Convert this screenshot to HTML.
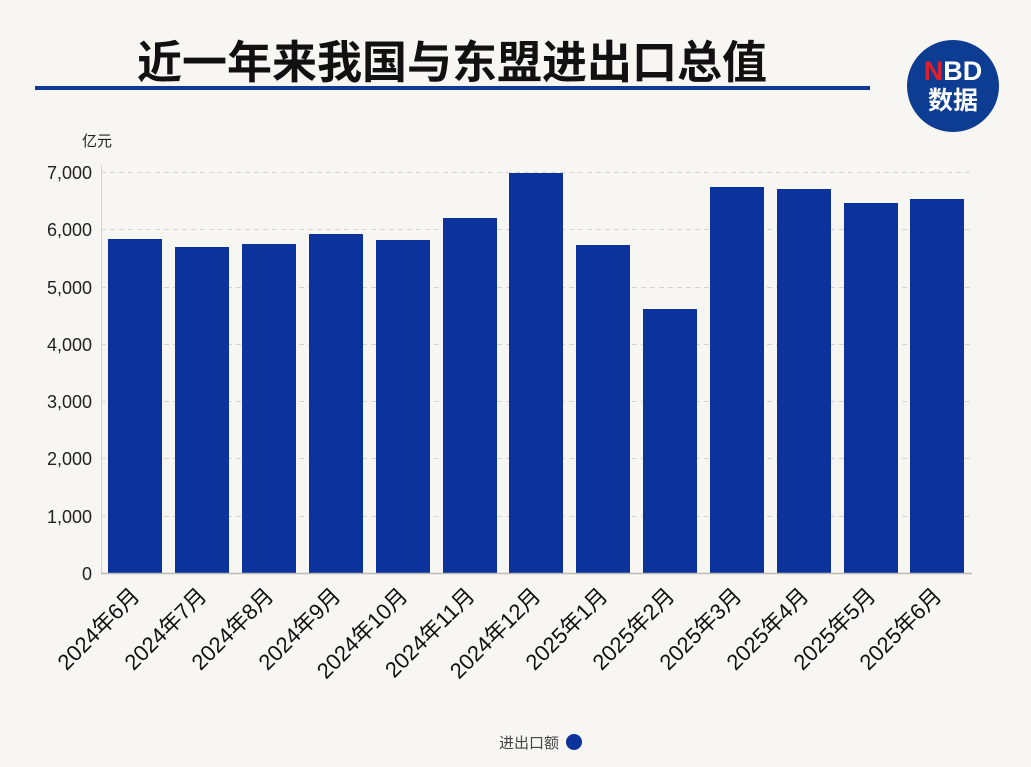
<!DOCTYPE html>
<html><head><meta charset="utf-8"><style>
html,body{margin:0;padding:0;background:#f8f6f2;}
svg{display:block;font-family:"Liberation Sans","Noto Sans CJK SC",sans-serif;}
</style></head><body>
<svg width="1031" height="767" viewBox="0 0 1031 767">
<rect width="1031" height="767" fill="#f8f6f2"/>
<text x="452" y="78" text-anchor="middle" font-size="45" font-weight="bold" fill="#111" font-family="'Noto Sans CJK SC',sans-serif">近一年来我国与东盟进出口总值</text>
<rect x="35" y="86" width="835" height="4" fill="#0d3a9a"/>
<circle cx="953" cy="86" r="46" fill="#0c3d92"/>
<text x="953" y="80" text-anchor="middle" font-size="27" font-weight="bold" fill="#fff"><tspan fill="#e0202a">N</tspan>BD</text>
<text x="953" y="109" text-anchor="middle" font-size="25" font-weight="bold" fill="#fff" font-family="'Noto Sans CJK SC',sans-serif">数据</text>
<text x="82" y="146" font-size="15" fill="#222" font-family="'Noto Sans CJK SC',sans-serif">亿元</text>
<g stroke="#d6d3cf" stroke-dasharray="5,4" stroke-width="1">
<line x1="101" x2="972" y1="172.5" y2="172.5"/><line x1="101" x2="972" y1="229.5" y2="229.5"/>
<line x1="101" x2="972" y1="287.5" y2="287.5"/><line x1="101" x2="972" y1="344.5" y2="344.5"/>
<line x1="101" x2="972" y1="401.5" y2="401.5"/><line x1="101" x2="972" y1="458.5" y2="458.5"/>
<line x1="101" x2="972" y1="516.5" y2="516.5"/>
</g>
<line x1="101.5" x2="101.5" y1="165" y2="574" stroke="#d6d3cf"/>
<g font-size="18" fill="#222" text-anchor="end">
<text x="92" y="179">7,000</text><text x="92" y="236">6,000</text><text x="92" y="294">5,000</text>
<text x="92" y="351">4,000</text><text x="92" y="408">3,000</text><text x="92" y="465">2,000</text>
<text x="92" y="523">1,000</text><text x="92" y="580">0</text>
</g>
<g fill="#0c339c">
<rect x="108" y="239" width="54" height="334"/>
<rect x="175" y="247" width="54" height="326"/>
<rect x="242" y="244" width="54" height="329"/>
<rect x="309" y="234" width="54" height="339"/>
<rect x="376" y="240" width="54" height="333"/>
<rect x="443" y="218" width="54" height="355"/>
<rect x="509" y="173" width="54" height="400"/>
<rect x="576" y="245" width="54" height="328"/>
<rect x="643" y="309" width="54" height="264"/>
<rect x="710" y="187" width="54" height="386"/>
<rect x="777" y="189" width="54" height="384"/>
<rect x="844" y="203" width="54" height="370"/>
<rect x="910" y="199" width="54" height="374"/>
</g>
<line x1="101" x2="972" y1="573.5" y2="573.5" stroke="#bdbab5" stroke-width="1.5"/>
<g font-size="22" fill="#111" text-anchor="end" font-family="'Liberation Sans','Noto Sans CJK SC',sans-serif">
<text transform="translate(141,597) rotate(-45)">2024年6月</text>
<text transform="translate(208,597) rotate(-45)">2024年7月</text>
<text transform="translate(275,597) rotate(-45)">2024年8月</text>
<text transform="translate(342,597) rotate(-45)">2024年9月</text>
<text transform="translate(409,597) rotate(-45)">2024年10月</text>
<text transform="translate(476,597) rotate(-45)">2024年11月</text>
<text transform="translate(542,597) rotate(-45)">2024年12月</text>
<text transform="translate(609,597) rotate(-45)">2025年1月</text>
<text transform="translate(676,597) rotate(-45)">2025年2月</text>
<text transform="translate(743,597) rotate(-45)">2025年3月</text>
<text transform="translate(810,597) rotate(-45)">2025年4月</text>
<text transform="translate(877,597) rotate(-45)">2025年5月</text>
<text transform="translate(943,597) rotate(-45)">2025年6月</text>
</g>
<text x="559" y="748" text-anchor="end" font-size="15" fill="#444" font-family="'Noto Sans CJK SC',sans-serif">进出口额</text>
<circle cx="574" cy="742" r="8" fill="#0c339c"/>
</svg>
</body></html>
